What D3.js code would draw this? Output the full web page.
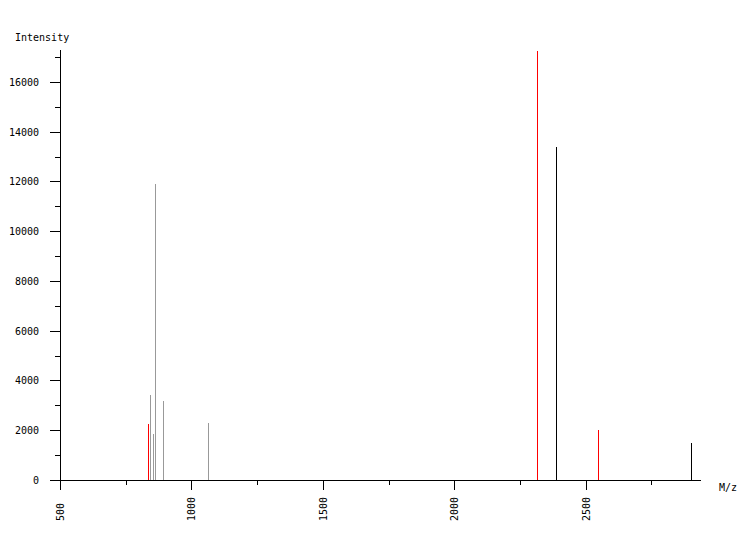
<!DOCTYPE html>
<html><head><meta charset="utf-8">
<script src="https://cdn.jsdelivr.net/npm/d3@7"></script>
<style>body{margin:0;background:#fff}svg text{font-family:"DejaVu Sans Mono",monospace;font-size:10px;fill:#000}</style>
</head><body><svg id="c" width="750" height="540"></svg>
<script>
const mz = [833, 841, 852, 860, 890, 1062, 2313, 2387, 2546, 2901];
const intensity = [2250, 3420, 1850, 11900, 3180, 2290, 17250, 13390, 2010, 1475];
const peakColor = ["#ff0000", "#999999", "#999999", "#999999", "#999999", "#999999", "#ff0000", "#000000", "#ff0000", "#000000"];
const xMajor = [500, 1000, 1500, 2000, 2500];
const xMinor = [750, 1250, 1750, 2250, 2750];
const yMajor = [0, 2000, 4000, 6000, 8000, 10000, 12000, 14000, 16000];
const yMinor = [1000, 3000, 5000, 7000, 9000, 11000, 13000, 15000, 17000];

const svg = d3.select("#c");
const x = d3.scaleLinear().domain([500, 2935]).range([60.5, 700.5]);
const y = d3.scaleLinear().domain([0, 17286]).range([480, 50]);
const X0 = 60.5, Y0 = 480.5;
const r = v => Math.floor(v) + 0.5;

// peaks
svg.append("g").selectAll("line").data(mz).join("line")
  .attr("x1", (d) => r(x(d))).attr("x2", (d) => r(x(d)))
  .attr("y1", Y0).attr("y2", (d, i) => Math.round(y(intensity[i])))
  .attr("stroke", (d, i) => peakColor[i]).attr("stroke-width", 1);

const ax = svg.append("g").attr("stroke", "#000").attr("stroke-width", 1);
ax.append("line").attr("x1", 50).attr("x2", 701).attr("y1", Y0).attr("y2", Y0);
ax.append("line").attr("x1", X0).attr("x2", X0).attr("y1", 50).attr("y2", 490);
ax.selectAll(".xM").data(xMajor).join("line").attr("x1", d => r(x(d))).attr("x2", d => r(x(d))).attr("y1", Y0).attr("y2", 490);
ax.selectAll(".xm").data(xMinor).join("line").attr("x1", d => r(x(d))).attr("x2", d => r(x(d))).attr("y1", Y0).attr("y2", 485);
ax.selectAll(".yM").data(yMajor).join("line").attr("y1", d => Math.round(y(d)) + 0.5).attr("y2", d => Math.round(y(d)) + 0.5).attr("x1", 50).attr("x2", X0);
ax.selectAll(".ym").data(yMinor).join("line").attr("y1", d => Math.round(y(d)) + 0.5).attr("y2", d => Math.round(y(d)) + 0.5).attr("x1", 55).attr("x2", X0);

svg.append("g").selectAll("text").data(yMajor).join("text")
  .attr("x", 39).attr("y", d => Math.round(y(d)) + 0.5).attr("dy", "0.35em").attr("text-anchor", "end").text(d => d);
svg.append("g").selectAll("text").data(xMajor).join("text")
  .attr("transform", d => `translate(${r(x(d))},521) rotate(-90)`).attr("dy", "0.35em").attr("text-anchor", "start").text(d => d);

svg.append("text").attr("x", 15).attr("y", 41).text("Intensity");
svg.append("text").attr("x", 719).attr("y", 491).text("M/z");
</script></body></html>
